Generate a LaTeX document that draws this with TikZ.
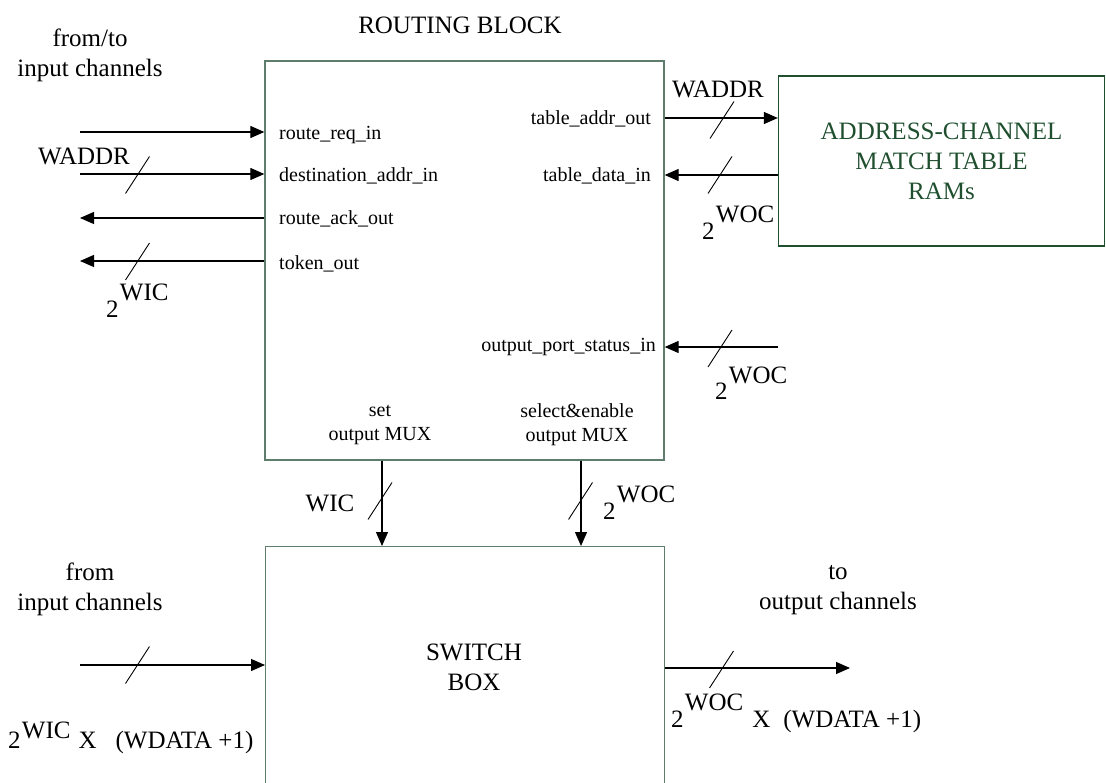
\documentclass[tikz,border=0pt]{standalone}
\usepackage{fontspec}
\setmainfont{Liberation Serif}
\usepackage{tikz}
\usetikzlibrary{arrows.meta, positioning, calc}

\definecolor{boxgreen}{HTML}{5E7D6C}
\definecolor{ramgreen}{HTML}{1F4F2F}

% bus width written as 2 to the power of a name
\newcommand{\pw}[2][0.68em]{2\kern0.05em\raisebox{#1}{#2}}

\begin{document}
\begin{tikzpicture}[
    x=1pt, y=-1pt,
    font=\fontsize{25}{30}\selectfont,
    >={Triangle[length=14pt, width=12pt]},
    block/.style={draw=boxgreen, line width=1.3pt, inner sep=0pt},
    ramblock/.style={draw=ramgreen, line width=1.3pt, text=ramgreen, align=center},
    port/.style={font=\fontsize{20}{24}\selectfont, inner sep=0pt, align=center},
    note/.style={inner sep=0pt, align=center},
    wire/.style={->, line width=1.2pt},
    bus/.style={line width=0.9pt}
]

\useasboundingbox (0,0) rectangle (1106,783);
\clip (0,0) rectangle (1106,783);

% blocks
\node[block, minimum width=399pt, minimum height=399pt] (route) at (464.5,260.5) {};
\node[block, anchor=north west, minimum width=399pt, minimum height=300pt] (switch) at (265,546) {};
\node[ramblock, minimum width=326pt, minimum height=170pt] (ram) at (941.5,161) {ADDRESS-CHANNEL\\MATCH TABLE\\RAMs};

\node[note] (routetitle) at (460,25) {ROUTING BLOCK};
\node[note] (switchtitle) at (474,667) {SWITCH\\BOX};

% port names
\node[port, anchor=west] (reqin) at (279,135) {route\_req\_in};
\node[port, anchor=west] (destin) at (279,176) {destination\_addr\_in};
\node[port, anchor=west] (ackout) at (279,219) {route\_ack\_out};
\node[port, anchor=west] (tokout) at (279,264) {token\_out};
\node[port, anchor=east] (tabout) at (651,119) {table\_addr\_out};
\node[port, anchor=east] (tabin) at (651,176) {table\_data\_in};
\node[port, anchor=east] (statin) at (656,347) {output\_port\_status\_in};
\node[port] (setmux) at (380,425) {set\\output MUX};
\node[port] (selmux) at (577,425) {select\&enable\\output MUX};

% outside labels
\node[note] (fromto) at (90,55) {from/to\\input channels};
\node[note] (fromin) at (90,589) {from\\input channels};
\node[note] (toout) at (838,590) {to\\output channels};
\node[note] (waddrl) at (84,156) {WADDR};
\node[note] (waddrr) at (718,89) {WADDR};
\node[note] (wicdown) at (330,503) {WIC};
\node[note, anchor=base west] (wictok) at (106,318) {\pw{WIC}};
\node[note, anchor=base west] (wocdata) at (702,240) {\pw{WOC}};
\node[note, anchor=base west] (wocstat) at (715,400) {\pw{WOC}};
\node[note, anchor=base west] (wocdown) at (603,519) {\pw{WOC}};
\node[note, anchor=base west] (widthin) at (8,748) {\pw[0.4em]{WIC}\hspace{8pt}X\hspace{19pt}(WDATA +1)};
\node[note, anchor=base west] (widthout) at (671,727) {\pw{WOC}\hspace{9pt}X\hspace{13pt}(WDATA +1)};

% free wire ends
\coordinate (reqsrc) at (80,132);
\coordinate (addrsrc) at (80,174);
\coordinate (acksink) at (80,218);
\coordinate (toksink) at (80,261);
\coordinate (tabrow) at (720,118);
\coordinate (datarow) at (720,175);
\coordinate (statsrc) at (778,347);
\coordinate (setcol) at (382,500);
\coordinate (selcol) at (581,500);
\coordinate (insrc) at (80,665);
\coordinate (outsink) at (850,668);

% wires
\draw[wire] (reqsrc) -- (reqsrc -| route.west);
\draw[wire] (addrsrc) -- (addrsrc -| route.west);
\draw[wire] (acksink -| route.west) -- (acksink);
\draw[wire] (toksink -| route.west) -- (toksink);
\draw[wire] (tabrow -| route.east) -- (tabrow -| ram.west);
\draw[wire] (datarow -| ram.west) -- (datarow -| route.east);
\draw[wire] (statsrc) -- (statsrc -| route.east);
\draw[wire] (setcol |- route.south) -- (setcol |- switch.north);
\draw[wire] (selcol |- route.south) -- (selcol |- switch.north);
\draw[wire] (insrc) -- (insrc -| switch.west);
\draw[wire] (outsink -| switch.east) -- (outsink);

% bus slashes
\foreach \x/\y in {137.5/174.5, 137.5/261, 722/119.5, 720/174.5, 720/348, 380/500.5, 580.5/500.5, 137.5/664.5, 721.5/669}
  \draw[bus] ([shift={(-12,19)}]\x,\y) -- ++(24,-37);

\end{tikzpicture}
\end{document}
